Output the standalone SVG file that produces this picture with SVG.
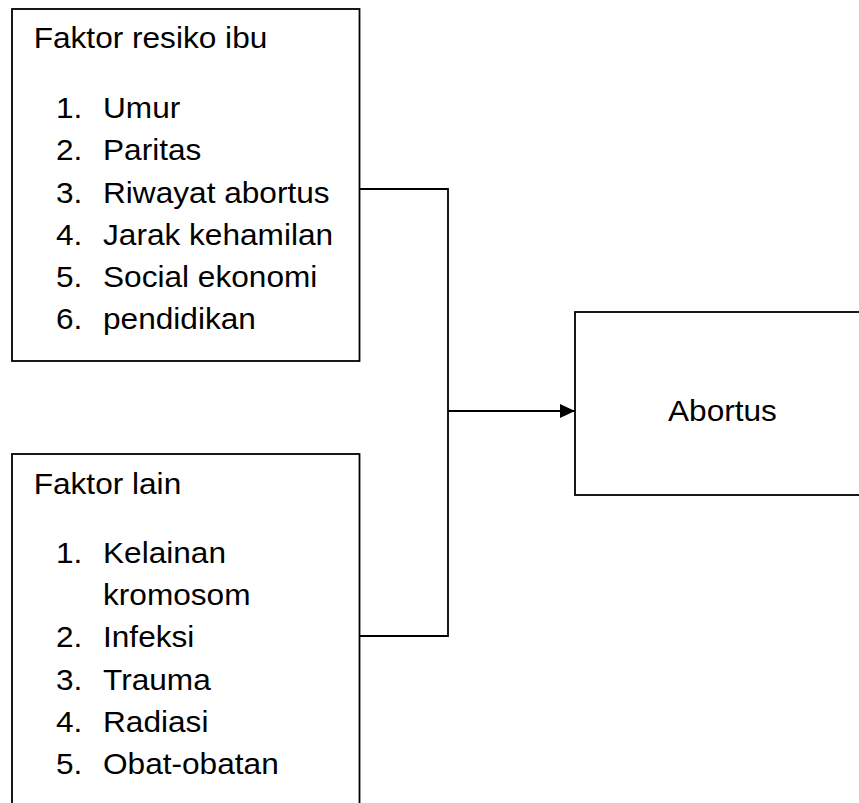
<svg xmlns="http://www.w3.org/2000/svg" width="859" height="803" viewBox="0 0 859 803">
<style>
.box{fill:#fff;stroke:#000;stroke-width:1.8}
.ln{fill:none;stroke:#000;stroke-width:1.8}
.t{font-family:"Liberation Sans",Arial,sans-serif;font-size:29px;fill:#000}
</style>
<defs>
<marker id="ah" markerUnits="userSpaceOnUse" markerWidth="16" markerHeight="14" refX="15" refY="7" orient="auto">
<path d="M0,0 L15,7 L0,14 Z" fill="#000"/>
</marker>
</defs>
<rect width="859" height="803" fill="#fff"/>
<g id="connectors">
<polyline class="ln" points="359.5,189 448,189 448,636 359.5,636"/>
<line class="ln" x1="448" y1="411" x2="575" y2="411" stroke-width="2.2" marker-end="url(#ah)"/>
</g>
<g id="node-faktor-resiko-ibu">
<rect class="box" x="12" y="9" width="347.5" height="352"/>
<g transform="scale(1.09,1)">
<text class="t" x="30.9" y="48.3">Faktor resiko ibu</text>
<text class="t" x="51.4" y="118.3">1.</text><text class="t" x="94.5" y="118.3">Umur</text>
<text class="t" x="51.4" y="160.5">2.</text><text class="t" x="94.5" y="160.5">Paritas</text>
<text class="t" x="51.4" y="202.7">3.</text><text class="t" x="94.5" y="202.7">Riwayat abortus</text>
<text class="t" x="51.4" y="245">4.</text><text class="t" x="94.5" y="245">Jarak kehamilan</text>
<text class="t" x="51.4" y="287.2">5.</text><text class="t" x="94.5" y="287.2">Social ekonomi</text>
<text class="t" x="51.4" y="329.4">6.</text><text class="t" x="94.5" y="329.4">pendidikan</text>
</g>
</g>
<g id="node-faktor-lain">
<rect class="box" x="12" y="454" width="347.5" height="360"/>
<g transform="scale(1.09,1)">
<text class="t" x="30.9" y="494">Faktor lain</text>
<text class="t" x="51.4" y="563">1.</text><text class="t" x="94.5" y="563">Kelainan</text>
<text class="t" x="94.5" y="605.2">kromosom</text>
<text class="t" x="51.4" y="647.4">2.</text><text class="t" x="94.5" y="647.4">Infeksi</text>
<text class="t" x="51.4" y="689.6">3.</text><text class="t" x="94.5" y="689.6">Trauma</text>
<text class="t" x="51.4" y="731.8">4.</text><text class="t" x="94.5" y="731.8">Radiasi</text>
<text class="t" x="51.4" y="774">5.</text><text class="t" x="94.5" y="774">Obat-obatan</text>
</g>
</g>
<g id="node-abortus">
<rect class="box" x="575" y="312" width="300" height="183"/>
<g transform="scale(1.09,1)">
<text class="t" x="662.8" y="421" text-anchor="middle">Abortus</text>
</g>
</g>
</svg>
